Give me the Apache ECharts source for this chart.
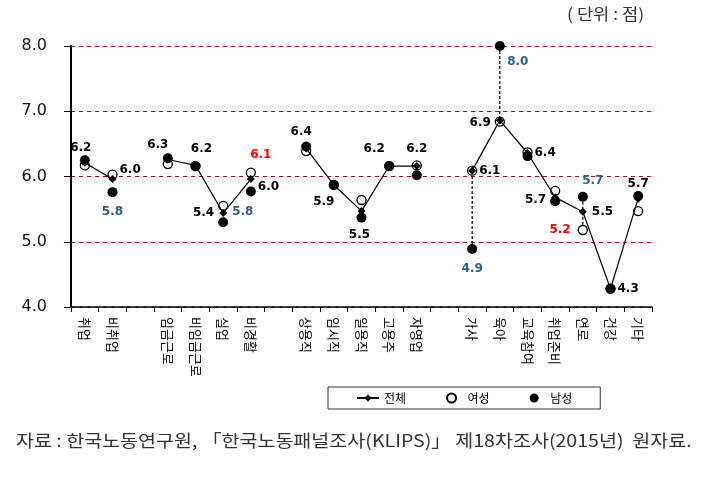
<!DOCTYPE html>
<html>
<head>
<meta charset="utf-8">
<script src="https://cdn.jsdelivr.net/npm/echarts@6/dist/echarts.min.js"></script>
<style>
  body { margin: 0; background: #fff; }
  #view1 { width: 708px; height: 483px; }
</style>
</head>
<body>
<div id="view1"></div>
<script>
// categories (blank slots are gaps between groups)
var cats = ['취업', '비취업', ' ', '임금근로', '비임금근로', '실업', '비경활', '  ',
  '상용직', '임시직', '일용직', '고용주', '자영업', '   ',
  '가사', '육아', '교육참여', '취업준비', '연로', '건강', '기타'];
var yTicks = [4, 5, 6, 7, 8];

var total  = [6.21, 5.96, null, 6.26, 6.17, 5.44, 5.96, null, 6.43, 5.87, 5.47, 6.16, 6.16, null, 6.09, 6.86, 6.36, 5.68, 5.46, 4.28, 5.66];
var female = [6.17, 6.03, null, 6.19, 6.16, 5.55, 6.06, null, 6.39, 5.87, 5.64, 6.16, 6.17, null, 6.09, 6.84, 6.37, 5.78, 5.18, 4.28, 5.47];
var male   = [6.25, 5.76, null, 6.28, 6.16, 5.30, 5.77, null, 6.46, 5.87, 5.37, 6.16, 6.02, null, 4.89, 8.0, 6.31, 5.62, 5.69, 4.28, 5.70];

// categories with a dotted line between male and female
var dropCats = ['가사', '육아', '연로'];

// label placement (style only)
var totalLab = {
  '취업': ['top', [-4, 0]], '비취업': ['right', [-2, -9]], '임금근로': ['top', [-10, 0]],
  '비임금근로': ['top', [6, -2]], '실업': ['left', [0, 0]], '비경활': ['right', [-2, 8]],
  '상용직': ['top', [-5, -2]], '임시직': ['bottom', [-10, 2]], '일용직': ['bottom', [-2, 9]],
  '고용주': ['top', [-15, -2]], '자영업': ['top', [0, -2]], '가사': ['right', [-2, 0]],
  '육아': ['left', [0, 2]], '교육참여': ['right', [-2, 0]], '취업준비': ['left', [0, 2]],
  '연로': ['right', [0, 0]], '건강': ['right', [-2, 0]], '기타': ['top', [0, 0]]
};
var maleLab = {
  '비취업': ['bottom', [0, 4]], '비경활': ['bottom', [-8, 4]], '가사': ['bottom', [0, 4]],
  '육아': ['bottom', [18, 0]], '연로': ['top', [10, 0]]
};
var femaleLab = { '비경활': ['top', [10, -2]], '연로': ['left', [-2, 0]] };

var lblBase = { fontFamily: 'DejaVu Sans', fontWeight: 'bold', fontSize: 12 };

function withLabels(vals, map, color) {
  return vals.map(function (v, i) {
    var m = map[cats[i]];
    if (v == null || !m) return v;
    return {
      value: v,
      label: Object.assign({ show: true, position: m[0], offset: m[1], color: color, distance: 5,
        formatter: function (p) { return p.value.toFixed(1); } }, lblBase)
    };
  });
}

var dropData = [];
cats.forEach(function (c, i) {
  if (dropCats.indexOf(c) >= 0) dropData.push([i, male[i], female[i]]);
});

var option = {
  animation: false,
  grid: { left: 71, right: 56, top: 46, bottom: 176 },
  legend: {
    left: 328, top: 387, width: 270,
    padding: [5, 28, 5, 28],
    itemGap: 40,
    borderColor: '#333', borderWidth: 1,
    itemWidth: 22, itemHeight: 9,
    textStyle: { fontFamily: 'Noto Sans CJK KR', fontSize: 12, color: '#000' },
    data: ['전체', '여성', '남성']
  },
  graphic: [
    { type: 'text', left: 567, top: 6, scaleX: 1.1,
      style: { text: '( 단위 : 점)', font: '16px "Noto Sans CJK KR"', fill: '#333' } },
    { type: 'text', left: 16, top: 432, scaleX: 1.15,
      style: { text: '자료 : 한국노동연구원, 「한국노동패널조사(KLIPS)」 제18차조사(2015년)  원자료.', font: '17px "Noto Sans CJK KR"', fill: '#333' } }
  ],
  xAxis: {
    type: 'category',
    data: cats,
    boundaryGap: true,
    axisLine: { lineStyle: { color: '#000', width: 1.5 } },
    axisTick: { show: true, length: 5, lineStyle: { color: '#000' } },
    axisLabel: { rotate: -90, interval: 0, margin: 10, color: '#000', fontFamily: 'Noto Sans CJK KR', fontSize: 13 }
  },
  yAxis: {
    type: 'value',
    min: 4, max: 8, interval: 1,
    axisLine: { show: true, lineStyle: { color: '#000', width: 2 } },
    axisTick: { show: true, length: 7, lineStyle: { color: '#000' } },
    axisLabel: { margin: 24, color: '#111', fontFamily: 'DejaVu Sans', fontSize: 16,
      formatter: function (v) { return v.toFixed(1); } },
    splitLine: { lineStyle: { color: '#C00000', type: [4, 4], width: 1 } }
  },
  series: [
    {
      type: 'custom',
      silent: true,
      z: 1,
      data: dropData,
      renderItem: function (params, api) {
        var a = api.coord([api.value(0), api.value(1)]);
        var b = api.coord([api.value(0), api.value(2)]);
        return { type: 'line', shape: { x1: a[0], y1: a[1], x2: b[0], y2: b[1] },
          style: { stroke: '#000', lineWidth: 1.2, lineDash: [3, 2] } };
      }
    },
    {
      name: '여성', type: 'scatter', z: 3, clip: false,
      symbol: 'circle', symbolSize: 9,
      itemStyle: { color: '#fff', borderColor: '#000', borderWidth: 1.3, opacity: 1 },
      data: withLabels(female, femaleLab, '#FF0000')
    },
    {
      name: '남성', type: 'scatter', z: 4, clip: false,
      symbol: 'circle', symbolSize: 10,
      itemStyle: { color: '#000', opacity: 1 },
      data: withLabels(male, maleLab, '#2E5E8E')
    },
    {
      name: '전체', type: 'line', z: 5, clip: false,
      symbol: 'diamond', symbolSize: 8, showAllSymbol: true,
      connectNulls: false,
      lineStyle: { color: '#000', width: 1.2 },
      itemStyle: { color: '#000' },
      data: withLabels(total, totalLab, '#000')
    }
  ]
};

echarts.init(document.getElementById('view1')).setOption(option);
</script>
</body>
</html>
